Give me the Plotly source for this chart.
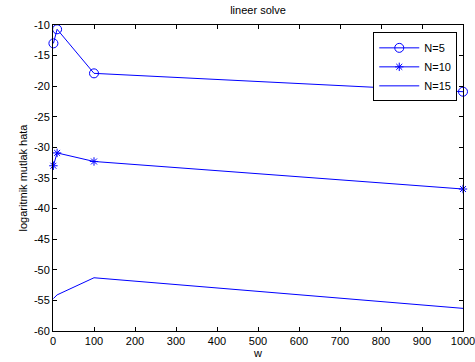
import plotly.graph_objects as go

w = [1, 10, 100, 1000]
n5 = [-13.0, -10.7, -17.9, -20.9]
n10 = [-33.0, -30.9, -32.3, -36.8]
n15 = [-54.7, -54.1, -51.3, -56.3]

x_ticks = list(range(0, 1001, 100))
y_ticks = list(range(-60, -9, 5))

blue = "rgb(0,0,255)"
fig = go.Figure()
fig.add_trace(go.Scatter(x=w, y=n5, name="N=5", mode="lines+markers", cliponaxis=False,
                         line=dict(color=blue, width=1),
                         marker=dict(symbol="circle-open", size=9, color=blue, line=dict(width=1))))
fig.add_trace(go.Scatter(x=w, y=n10, name="N=10", mode="lines+markers", cliponaxis=False,
                         line=dict(color=blue, width=1),
                         marker=dict(symbol="asterisk-open", size=7, color=blue, line=dict(width=1, color=blue))))
fig.add_trace(go.Scatter(x=w, y=n15, name="N=15", mode="lines",
                         line=dict(color=blue, width=1)))

axis_common = dict(showgrid=False, zeroline=False, showline=True, linecolor="black", linewidth=1,
                   mirror="ticks", ticks="inside", ticklen=4, tickcolor="black", automargin=False,
                   ticklabeloverflow="allow",
                   tickfont=dict(family="Liberation Sans", size=11, color="black"))

fig.update_layout(
    width=475, height=362,
    margin=dict(l=53, r=12, t=25, b=31),
    paper_bgcolor="white", plot_bgcolor="white",
    font=dict(family="Liberation Sans", size=11, color="black"),
    title=dict(text="lineer solve", x=0.5, xref="paper", xanchor="center", y=0.972, yanchor="middle",
               font=dict(size=11)),
    xaxis=dict(range=[0, 1000], tickvals=x_ticks, ticktext=[str(v) for v in x_ticks],
               title=dict(text="w", standoff=2, font=dict(size=11)), **axis_common),
    yaxis=dict(range=[-60, -10], tickvals=y_ticks, ticktext=[str(v) for v in y_ticks],
               title=dict(text="logaritmik mutlak hata", standoff=4, font=dict(size=11)), **axis_common),
    legend=dict(x=0.986, xanchor="right", y=0.976, yanchor="top",
                bgcolor="white", bordercolor="black", borderwidth=1,
                font=dict(size=11), tracegroupgap=0, itemwidth=40),
    showlegend=True,
)

fig.write_html("out.html")
